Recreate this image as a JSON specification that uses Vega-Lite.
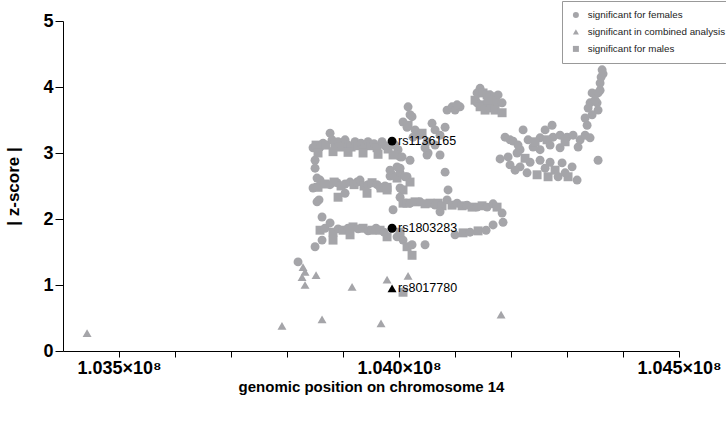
{
"$schema": "https://vega.github.io/schema/vega-lite/v6.json",
"width": 616, "height": 330,
"autosize": {"type": "none"},
"padding": {"left": 63, "top": 21, "right": 47, "bottom": 72},
"background": "#ffffff",
"config": {"view": {"stroke": null}, "font": "Liberation Sans"},
"datasets": {
"pts": [
{"pos":103846500,"z":3.08,"g":"F"},{"pos":103851900,"z":3.12,"g":"M"},{"pos":103859000,"z":3.09,"g":"F"},{"pos":103864400,"z":3.15,"g":"F"},{"pos":103869700,"z":3.12,"g":"M"},{"pos":103876900,"z":3.30,"g":"F"},{"pos":103880400,"z":3.20,"g":"F"},{"pos":103885800,"z":3.12,"g":"M"},{"pos":103891200,"z":3.17,"g":"F"},{"pos":103896500,"z":3.09,"g":"M"},{"pos":103903700,"z":3.20,"g":"F"},{"pos":103909000,"z":3.12,"g":"F"},{"pos":103914400,"z":3.09,"g":"M"},{"pos":103921500,"z":3.17,"g":"F"},{"pos":103926900,"z":3.11,"g":"M"},{"pos":103932200,"z":3.15,"g":"F"},{"pos":103937600,"z":3.09,"g":"F"},{"pos":103944700,"z":3.17,"g":"F"},{"pos":103950100,"z":3.11,"g":"M"},{"pos":103955400,"z":3.14,"g":"F"},{"pos":103960800,"z":3.08,"g":"M"},{"pos":103969700,"z":3.17,"g":"F"},{"pos":103975100,"z":3.11,"g":"F"},{"pos":103980500,"z":3.06,"g":"M"},{"pos":103993000,"z":3.12,"g":"F"},{"pos":103998300,"z":3.05,"g":"F"},{"pos":104001900,"z":2.94,"g":"F"},
{"pos":103855400,"z":3.00,"g":"M"},{"pos":103882200,"z":3.02,"g":"M"},{"pos":103909000,"z":3.01,"g":"M"},{"pos":103935800,"z":3.00,"g":"M"},{"pos":103962600,"z":2.98,"g":"M"},{"pos":103989400,"z":2.97,"g":"M"},
{"pos":103850100,"z":2.89,"g":"F"},{"pos":103850100,"z":2.77,"g":"F"},{"pos":103853600,"z":2.62,"g":"F"},{"pos":103857200,"z":2.29,"g":"F"},
{"pos":103846500,"z":2.47,"g":"F"},{"pos":103855400,"z":2.48,"g":"M"},{"pos":103859000,"z":2.59,"g":"F"},{"pos":103867900,"z":2.53,"g":"M"},{"pos":103876900,"z":2.52,"g":"F"},{"pos":103884000,"z":2.56,"g":"M"},{"pos":103889400,"z":2.55,"g":"F"},{"pos":103896500,"z":2.50,"g":"M"},{"pos":103903700,"z":2.53,"g":"F"},{"pos":103912600,"z":2.56,"g":"F"},{"pos":103919700,"z":2.52,"g":"M"},{"pos":103925100,"z":2.56,"g":"F"},{"pos":103930400,"z":2.59,"g":"F"},{"pos":103937600,"z":2.50,"g":"M"},{"pos":103944700,"z":2.52,"g":"F"},{"pos":103951900,"z":2.55,"g":"M"},{"pos":103960800,"z":2.52,"g":"F"},{"pos":103967900,"z":2.47,"g":"M"},{"pos":103975100,"z":2.50,"g":"F"},{"pos":103978700,"z":2.48,"g":"M"},{"pos":103984000,"z":2.65,"g":"F"},{"pos":103987600,"z":2.67,"g":"F"},{"pos":103996500,"z":2.62,"g":"M"},{"pos":104001900,"z":2.70,"g":"F"},{"pos":104007200,"z":2.44,"g":"M"},{"pos":104014400,"z":2.64,"g":"F"},{"pos":104019700,"z":2.56,"g":"M"},
{"pos":103891200,"z":2.33,"g":"M"},{"pos":103853600,"z":2.26,"g":"F"},{"pos":103903700,"z":2.39,"g":"F"},{"pos":103942900,"z":2.39,"g":"M"},{"pos":103989400,"z":2.14,"g":"F"},{"pos":104001900,"z":2.33,"g":"F"},{"pos":104007200,"z":2.24,"g":"M"},
{"pos":104014400,"z":2.24,"g":"M"},{"pos":104019700,"z":2.24,"g":"F"},{"pos":104028700,"z":2.26,"g":"M"},{"pos":104037600,"z":2.26,"g":"F"},{"pos":104046500,"z":2.23,"g":"M"},{"pos":104055500,"z":2.24,"g":"M"},{"pos":104064400,"z":2.21,"g":"F"},{"pos":104069800,"z":2.24,"g":"M"},{"pos":104076900,"z":2.20,"g":"M"},{"pos":104085800,"z":2.29,"g":"F"},{"pos":104094800,"z":2.21,"g":"M"},{"pos":104103700,"z":2.24,"g":"F"},{"pos":104112600,"z":2.20,"g":"M"},{"pos":104121500,"z":2.21,"g":"F"},{"pos":104130500,"z":2.18,"g":"M"},{"pos":104139400,"z":2.18,"g":"F"},{"pos":104148300,"z":2.20,"g":"M"},{"pos":104157300,"z":2.18,"g":"F"},{"pos":104168000,"z":2.23,"g":"F"},{"pos":104175100,"z":2.18,"g":"M"},{"pos":104184100,"z":2.09,"g":"F"},{"pos":104185800,"z":1.95,"g":"F"},{"pos":104073300,"z":2.11,"g":"F"},
{"pos":103862600,"z":2.03,"g":"F"},{"pos":103876900,"z":1.94,"g":"F"},{"pos":103859000,"z":1.83,"g":"M"},{"pos":103867900,"z":1.86,"g":"F"},{"pos":103882200,"z":1.80,"g":"M"},{"pos":103891200,"z":1.85,"g":"F"},{"pos":103900100,"z":1.83,"g":"M"},{"pos":103909000,"z":1.86,"g":"F"},{"pos":103917900,"z":1.88,"g":"M"},{"pos":103926900,"z":1.85,"g":"F"},{"pos":103935800,"z":1.86,"g":"M"},{"pos":103944700,"z":1.82,"g":"F"},{"pos":103951900,"z":1.83,"g":"M"},{"pos":103959000,"z":1.86,"g":"F"},{"pos":103966200,"z":1.83,"g":"M"},{"pos":103973300,"z":1.80,"g":"F"},{"pos":103978700,"z":1.73,"g":"M"},{"pos":103996500,"z":1.73,"g":"F"},{"pos":104001900,"z":1.80,"g":"M"},{"pos":104007200,"z":1.68,"g":"F"},{"pos":104014400,"z":1.58,"g":"M"},{"pos":104023300,"z":1.61,"g":"F"},{"pos":104023300,"z":1.45,"g":"M"},{"pos":104046500,"z":1.61,"g":"F"},{"pos":103862600,"z":1.68,"g":"F"},{"pos":103850100,"z":1.58,"g":"F"},{"pos":103912600,"z":1.76,"g":"M"},{"pos":103882200,"z":1.68,"g":"M"},
{"pos":104100100,"z":1.76,"g":"F"},{"pos":104114400,"z":1.79,"g":"M"},{"pos":104126900,"z":1.80,"g":"F"},{"pos":104141200,"z":1.82,"g":"M"},{"pos":104155500,"z":1.83,"g":"F"},{"pos":104168000,"z":1.91,"g":"F"},
{"pos":103984000,"z":2.74,"g":"F"},{"pos":103996500,"z":2.79,"g":"F"},{"pos":104001900,"z":2.77,"g":"F"},{"pos":104010800,"z":2.64,"g":"F"},{"pos":104019700,"z":2.89,"g":"F"},{"pos":104050100,"z":2.97,"g":"F"},{"pos":104073300,"z":2.97,"g":"F"},{"pos":104082300,"z":2.71,"g":"F"},{"pos":104087600,"z":2.44,"g":"F"},{"pos":103966200,"z":2.48,"g":"F"},{"pos":103978700,"z":2.44,"g":"M"},{"pos":104001900,"z":2.47,"g":"F"},
{"pos":104016200,"z":3.70,"g":"F"},{"pos":104019700,"z":3.58,"g":"F"},{"pos":104023300,"z":3.55,"g":"F"},{"pos":104007200,"z":3.47,"g":"F"},{"pos":104014400,"z":3.39,"g":"F"},{"pos":104016200,"z":3.42,"g":"M"},{"pos":104028700,"z":3.35,"g":"F"},{"pos":104025100,"z":3.24,"g":"F"},{"pos":104037600,"z":3.27,"g":"F"},{"pos":104041200,"z":3.30,"g":"M"},{"pos":104050100,"z":3.17,"g":"F"},{"pos":104059000,"z":3.45,"g":"F"},{"pos":104064400,"z":3.35,"g":"F"},{"pos":104073300,"z":3.27,"g":"F"},{"pos":104082300,"z":3.39,"g":"F"},{"pos":104085800,"z":3.65,"g":"F"},{"pos":104051900,"z":3.00,"g":"F"},{"pos":104005500,"z":2.94,"g":"F"},{"pos":104046500,"z":3.08,"g":"F"},{"pos":104064400,"z":3.12,"g":"F"},
{"pos":104094800,"z":3.70,"g":"F"},{"pos":104100100,"z":3.65,"g":"F"},{"pos":104109000,"z":3.70,"g":"F"},{"pos":104103700,"z":3.73,"g":"F"},
{"pos":104144800,"z":3.98,"g":"F"},{"pos":104139400,"z":3.91,"g":"F"},{"pos":104150100,"z":3.91,"g":"M"},{"pos":104157300,"z":3.88,"g":"M"},{"pos":104162600,"z":3.88,"g":"F"},{"pos":104171600,"z":3.85,"g":"M"},{"pos":104176900,"z":3.88,"g":"F"},{"pos":104135800,"z":3.80,"g":"M"},{"pos":104139400,"z":3.76,"g":"F"},{"pos":104148300,"z":3.73,"g":"M"},{"pos":104157300,"z":3.76,"g":"F"},{"pos":104166200,"z":3.73,"g":"M"},{"pos":104175100,"z":3.76,"g":"F"},{"pos":104184100,"z":3.76,"g":"F"},{"pos":104144800,"z":3.70,"g":"M"},{"pos":104153700,"z":3.65,"g":"M"},{"pos":104162600,"z":3.68,"g":"F"},{"pos":104171600,"z":3.65,"g":"M"},{"pos":104184100,"z":3.61,"g":"M"},{"pos":104159100,"z":3.80,"g":"M"},
{"pos":104189400,"z":3.24,"g":"F"},{"pos":104198300,"z":3.20,"g":"F"},{"pos":104203700,"z":3.18,"g":"F"},{"pos":104212600,"z":3.12,"g":"F"},{"pos":104221600,"z":3.35,"g":"F"},{"pos":104230500,"z":3.20,"g":"F"},{"pos":104239400,"z":3.09,"g":"F"},{"pos":104251900,"z":3.23,"g":"F"},{"pos":104260900,"z":3.35,"g":"F"},{"pos":104273400,"z":3.42,"g":"F"},{"pos":104275100,"z":3.24,"g":"F"},{"pos":104287600,"z":3.27,"g":"F"},{"pos":104300100,"z":3.24,"g":"F"},{"pos":104310900,"z":3.27,"g":"F"},{"pos":104323400,"z":3.20,"g":"F"},{"pos":104332300,"z":3.27,"g":"F"},{"pos":104335900,"z":3.42,"g":"F"},{"pos":104319800,"z":3.09,"g":"F"},{"pos":104287600,"z":3.08,"g":"F"},{"pos":104269800,"z":3.12,"g":"F"},{"pos":104251900,"z":3.05,"g":"F"},{"pos":104216200,"z":3.05,"g":"F"},{"pos":104243000,"z":3.17,"g":"M"},{"pos":104264400,"z":3.20,"g":"M"},{"pos":104296600,"z":3.17,"g":"M"},{"pos":104341200,"z":3.23,"g":"F"},
{"pos":104180500,"z":2.91,"g":"F"},{"pos":104194800,"z":2.94,"g":"F"},{"pos":104210800,"z":3.00,"g":"F"},{"pos":104198300,"z":2.82,"g":"F"},{"pos":104216200,"z":2.79,"g":"F"},{"pos":104234100,"z":2.86,"g":"F"},{"pos":104251900,"z":2.89,"g":"F"},{"pos":104269800,"z":2.86,"g":"F"},{"pos":104291200,"z":2.85,"g":"F"},{"pos":104309100,"z":2.79,"g":"F"},{"pos":104228700,"z":2.70,"g":"F"},{"pos":104246600,"z":2.67,"g":"M"},{"pos":104266200,"z":2.64,"g":"M"},{"pos":104284100,"z":2.64,"g":"F"},{"pos":104301900,"z":2.64,"g":"M"},{"pos":104318000,"z":2.59,"g":"F"},{"pos":104355500,"z":2.89,"g":"F"},{"pos":104207300,"z":2.74,"g":"F"},{"pos":104260900,"z":2.77,"g":"F"},{"pos":104296600,"z":2.70,"g":"F"},{"pos":104278700,"z":2.74,"g":"M"},{"pos":104225100,"z":2.92,"g":"M"},
{"pos":104362700,"z":4.26,"g":"F"},{"pos":104364400,"z":4.20,"g":"F"},{"pos":104360900,"z":4.15,"g":"F"},{"pos":104359100,"z":4.06,"g":"F"},{"pos":104344800,"z":3.91,"g":"F"},{"pos":104355500,"z":3.91,"g":"F"},{"pos":104359100,"z":3.95,"g":"F"},{"pos":104341200,"z":3.76,"g":"F"},{"pos":104353700,"z":3.76,"g":"F"},{"pos":104337700,"z":3.68,"g":"F"},{"pos":104355500,"z":3.65,"g":"F"},{"pos":104344800,"z":3.58,"g":"F"},{"pos":104350200,"z":3.80,"g":"F"},{"pos":104332300,"z":3.53,"g":"F"},
{"pos":103819700,"z":1.35,"g":"F"},{"pos":104007200,"z":0.89,"g":"M"},
{"pos":103443000,"z":0.27,"g":"C"},{"pos":103791000,"z":0.38,"g":"C"},{"pos":103828600,"z":1.27,"g":"C"},{"pos":103832200,"z":1.20,"g":"C"},{"pos":103826900,"z":1.12,"g":"C"},{"pos":103832200,"z":1.00,"g":"C"},{"pos":103851900,"z":1.15,"g":"C"},{"pos":103862600,"z":0.48,"g":"C"},{"pos":103916200,"z":0.97,"g":"C"},{"pos":103967900,"z":0.42,"g":"C"},{"pos":103978700,"z":1.08,"g":"C"},{"pos":104016200,"z":1.14,"g":"C"},{"pos":104182300,"z":0.55,"g":"C"}
],
"hl": [
{"pos":103987600,"z":3.18,"g":"F","label":"rs1136165"},
{"pos":103987600,"z":1.86,"g":"F","label":"rs1803283"},
{"pos":103987600,"z":0.95,"g":"C","label":"rs8017780"}
]
},
"layer": [
{
"data": {"name": "pts"},
"mark": {"type": "point", "filled": true, "opacity": 1, "size": 80, "color": "#a5a5a9", "strokeWidth": 0},
"encoding": {
"x": {"field": "pos", "type": "quantitative",
 "scale": {"domain": [103400000, 104500000], "nice": false, "zero": false},
 "axis": {"values": [103500000,103600000,103700000,103800000,103900000,104000000,104100000,104200000,104300000,104400000,104500000],
  "labelExpr": "datum.value % 500000 == 0 ? format(datum.value/1e8, '.3f') + '×10⁸' : ''",
  "labelOverlap": false, "labelFlush": false, "grid": false,
  "domainColor": "#000", "tickColor": "#000", "tickSize": 6, "domainWidth": 1, "tickWidth": 1,
  "labelFont": "Liberation Sans", "labelFontSize": 18, "labelFontWeight": "bold", "labelColor": "#000", "labelPadding": 2,
  "title": "genomic position on chromosome 14", "titleFont": "Liberation Sans", "titleFontSize": 15, "titleFontWeight": "bold", "titleColor": "#000", "titlePadding": 2}},
"y": {"field": "z", "type": "quantitative",
 "scale": {"domain": [0, 5], "nice": false},
 "axis": {"values": [0,1,2,3,4,5], "format": "d", "grid": false,
  "domainColor": "#000", "tickColor": "#000", "tickSize": 8, "domainWidth": 1, "tickWidth": 1,
  "labelFont": "Liberation Sans", "labelFontSize": 18, "labelFontWeight": "bold", "labelColor": "#000", "labelPadding": 2,
  "title": "| z-score |", "titleFont": "Liberation Sans", "titleFontSize": 17, "titleFontWeight": "bold", "titleColor": "#000", "titlePadding": 20}},
"shape": {"field": "g", "type": "nominal",
 "scale": {"domain": ["F", "C", "M"], "range": ["circle", "triangle-up", "square"]},
 "legend": {"orient": "none", "legendX": 499, "legendY": -20, "title": null,
  "labelExpr": "datum.label == 'F' ? 'significant for females' : datum.label == 'C' ? 'significant in combined analysis' : 'significant for males'",
  "padding": 9, "strokeColor": "#999", "fillColor": "#fff", "symbolSize": 36, "symbolFillColor": "#a5a5a9", "symbolStrokeColor": "#a5a5a9", "symbolStrokeWidth": 0,
  "labelFont": "Liberation Sans", "labelFontSize": 9.8, "labelColor": "#222", "rowPadding": 6, "labelOffset": 7}}
}
},
{
"mark": {"type": "rule", "strokeDash": [2, 4], "strokeWidth": 1.8, "color": "#000"},
"encoding": {"y": {"datum": 3}}
},
{
"data": {"name": "hl"},
"mark": {"type": "point", "filled": true, "opacity": 1, "size": 80, "color": "#000", "strokeWidth": 0},
"encoding": {
"x": {"field": "pos", "type": "quantitative"},
"y": {"field": "z", "type": "quantitative"},
"shape": {"field": "g", "type": "nominal", "legend": null}
}
},
{
"data": {"name": "hl"},
"mark": {"type": "text", "align": "left", "baseline": "middle", "dx": 6, "fontSize": 12.5, "font": "Liberation Sans", "color": "#000"},
"encoding": {
"x": {"field": "pos", "type": "quantitative"},
"y": {"field": "z", "type": "quantitative"},
"text": {"field": "label"}
}
}
]
}
